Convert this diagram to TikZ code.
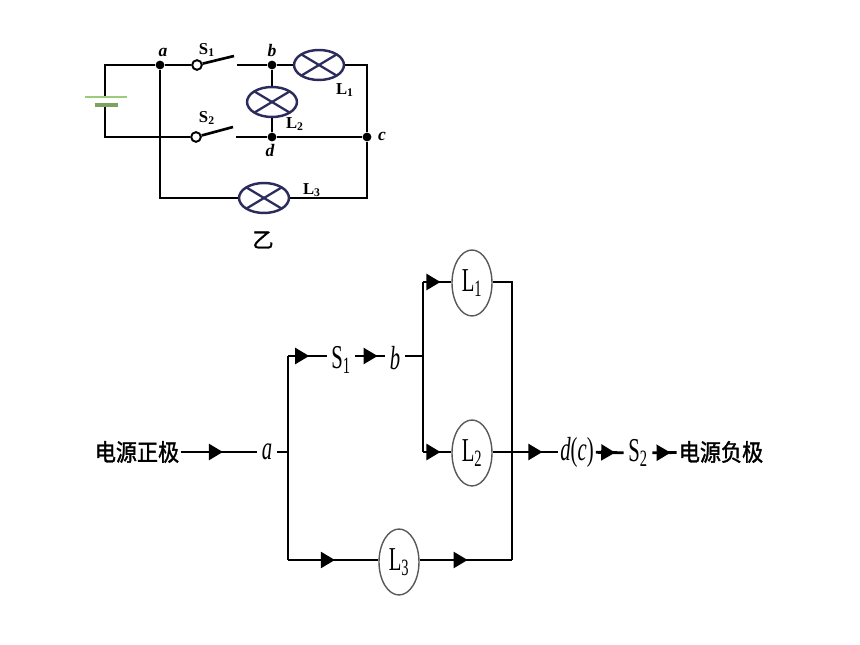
\documentclass[tikz,border=0pt]{standalone}
\usepackage{graphicx}
\usepackage{fontspec}
\setmainfont{Liberation Serif}
\newfontfamily\cjk{Noto Sans CJK SC}
\newfontfamily\cjkheavy[FakeBold=1.5]{Noto Sans CJK SC}
\usetikzlibrary{arrows.meta,decorations.markings,shapes.geometric}

\definecolor{lampblue}{HTML}{2B2B5E}
\definecolor{cellgreen}{HTML}{9CCB7A}
\newcommand{\tall}[1]{\scalebox{0.62}[1]{\fontsize{19}{19}\selectfont #1}}
\newcommand{\hei}[1]{\scalebox{1}[1.12]{\cjkheavy\fontsize{12}{12}\selectfont #1}}

\tikzset{
  wire/.style={line width=1.5pt, line join=miter},
  flowwire/.style={line width=1.6pt, line join=miter},
  flow/.style={postaction={decorate},
    decoration={markings, mark=at position #1 with {\arrow{Triangle[length=8pt,width=9pt]}}}},
  junction/.style={circle, fill=black, inner sep=0pt, minimum size=5pt},
  contact/.style={circle, draw=black, fill=white, line width=1.1pt, inner sep=0pt, minimum size=5.5pt},
  lamp/.style={ellipse, draw=lampblue, line width=1.4pt, inner sep=0pt,
    minimum width=1cm, minimum height=0.6cm,
    path picture={
      \draw[lampblue, line width=1.3pt] (path picture bounding box.south west) -- (path picture bounding box.north east);
      \draw[lampblue, line width=1.3pt] (path picture bounding box.north west) -- (path picture bounding box.south east);
    }},
  tag/.style={inner sep=0pt, font=\fontsize{9.5}{9.5}\selectfont\bfseries},
  pointtag/.style={inner sep=0pt, font=\fontsize{10}{10}\selectfont\bfseries\itshape},
  load/.style={ellipse, draw=black!65, line width=0.8pt, fill=white, inner sep=0pt,
    minimum width=0.8cm, minimum height=1.32cm},
  term/.style={inner sep=2.5pt}
}

\begin{document}
\begin{tikzpicture}[x=0.02cm, y=-0.02cm]
  \useasboundingbox (0,0) rectangle (860,645);

  \coordinate (tl) at (105,65);
  \coordinate (bl) at (105,137);
  \coordinate (celltop) at (105,97);
  \coordinate (cellbot) at (105,105);
  \coordinate (tr) at (367,65);
  \coordinate (br) at (367,198);
  \coordinate (ba) at (160,198);
  \coordinate (gap1) at (237,65);
  \coordinate (gap2) at (236,137);
  \coordinate (blade1) at (234,56);
  \coordinate (blade2) at (233,127);
  \coordinate (cross) at (160,137);

  \node[junction] (na) at (160,65) {};
  \node[junction] (nb) at (272,65) {};
  \node[junction] (nd) at (272,137) {};
  \node[junction] (nc) at (367,137) {};
  \node[contact] (s1) at (197,65) {};
  \node[contact] (s2) at (196,137) {};
  \node[lamp] (lamp1) at (319,65) {};
  \node[lamp] (lamp2) at (272,102) {};
  \node[lamp] (lamp3) at (264,198) {};

  \draw[wire] (cellbot) -- (bl) -- (cross) -- (s2);
  \draw[wire] (celltop) -- (tl) -- (na) -- (s1);
  \draw[wire] (na) -- (ba) -- (lamp3);
  \draw[wire] (lamp3) -- (br) -- (nc);
  \draw[wire] (nc) -- (tr) -- (lamp1);
  \draw[wire] (gap1) -- (nb) -- (lamp1);
  \draw[wire] (nb) -- (lamp2);
  \draw[wire] (lamp2) -- (nd);
  \draw[wire] (gap2) -- (nd) -- (nc);
  \draw[wire] (s1) -- (blade1);
  \draw[wire] (s2) -- (blade2);

  \draw[cellgreen, line width=1.4pt] (85,97) -- (127,97);
  \draw[cellgreen!80!black, line width=1.8pt] (95,105) -- (118,105);

  \node[pointtag] (la) at (163,52) {a};
  \node[pointtag] (lb) at (272,51) {b};
  \node[pointtag] (lc) at (382,136) {c};
  \node[pointtag] (ld) at (270,150) {d};
  \node[tag] (ls1) at (207,50) {S\textsubscript{1}};
  \node[tag] (ls2) at (207,118) {S\textsubscript{2}};
  \node[tag] (ll1) at (345,90) {L\textsubscript{1}};
  \node[tag] (ll2) at (295,124) {L\textsubscript{2}};
  \node[tag] (ll3) at (312,190) {L\textsubscript{3}};
  \node[inner sep=0pt, font=\cjkheavy\fontsize{12}{12}\selectfont] (yi) at (263,240) {乙};

  \node[term, inner sep=1pt] (pos) at (137,452) {\hei{电源正极}};
  \node[term] (pa) at (267,452) {\tall{\textit{a}}};
  \node[term] (ps1) at (341,360) {\tall{S\textsubscript{1}}};
  \node[term] (pb) at (395,358) {\tall{\textit{b}}};
  \node[load] (pl1) at (472,283) {\tall{L\textsubscript{1}}};
  \node[load] (pl2) at (472,453) {\tall{L\textsubscript{2}}};
  \node[load] (pl3) at (399,562) {\tall{L\textsubscript{3}}};
  \node[term, inner sep=1pt] (pdc) at (577,452) {\tall{\textit{d}(\textit{c})}};
  \node[term] (ps2) at (638,453) {\tall{S\textsubscript{2}}};
  \node[term, inner sep=1pt] (neg) at (721,452) {\hei{电源负极}};

  \coordinate (ja) at (288,452);
  \coordinate (jt) at (288,356);
  \coordinate (jb) at (288,560);
  \coordinate (kb) at (423,356);
  \coordinate (kt) at (423,282);
  \coordinate (kl) at (423,452);
  \coordinate (rt) at (512,282);
  \coordinate (rb) at (512,560);

  \draw[flowwire, flow=0.55] (pos) -- (pa);
  \draw[flowwire] (pa) -- (ja);
  \draw[flowwire] (jt) -- (jb);
  \draw[flowwire, flow=0.55] (jt) -- (jt -| ps1.west);
  \draw[flowwire, flow=0.75] (ps1.east |- jt) -- (pb.west |- jt);
  \draw[flowwire] (pb.east |- kb) -- (kb);
  \draw[flowwire] (kt) -- (kl);
  \draw[flowwire, flow=0.62] (kt) -- (kt -| pl1.west);
  \draw[flowwire, flow=0.62] (kl) -- (kl -| pl2.west);
  \draw[flowwire, flow=0.52] (jb) -- (jb -| pl3.west);
  \draw[flowwire, flow=0.52] (jb -| pl3.east) -- (rb);
  \draw[flowwire] (kt -| pl1.east) -- (rt) -- (rb);
  \draw[flowwire, flow=0.76] (kl -| pl2.east) -- (kl -| pdc.west);
  \draw[flowwire, flow=0.7] (pdc) -- (ps2);
  \draw[flowwire, flow=0.75] (ps2) -- (neg);
\end{tikzpicture}
\end{document}
